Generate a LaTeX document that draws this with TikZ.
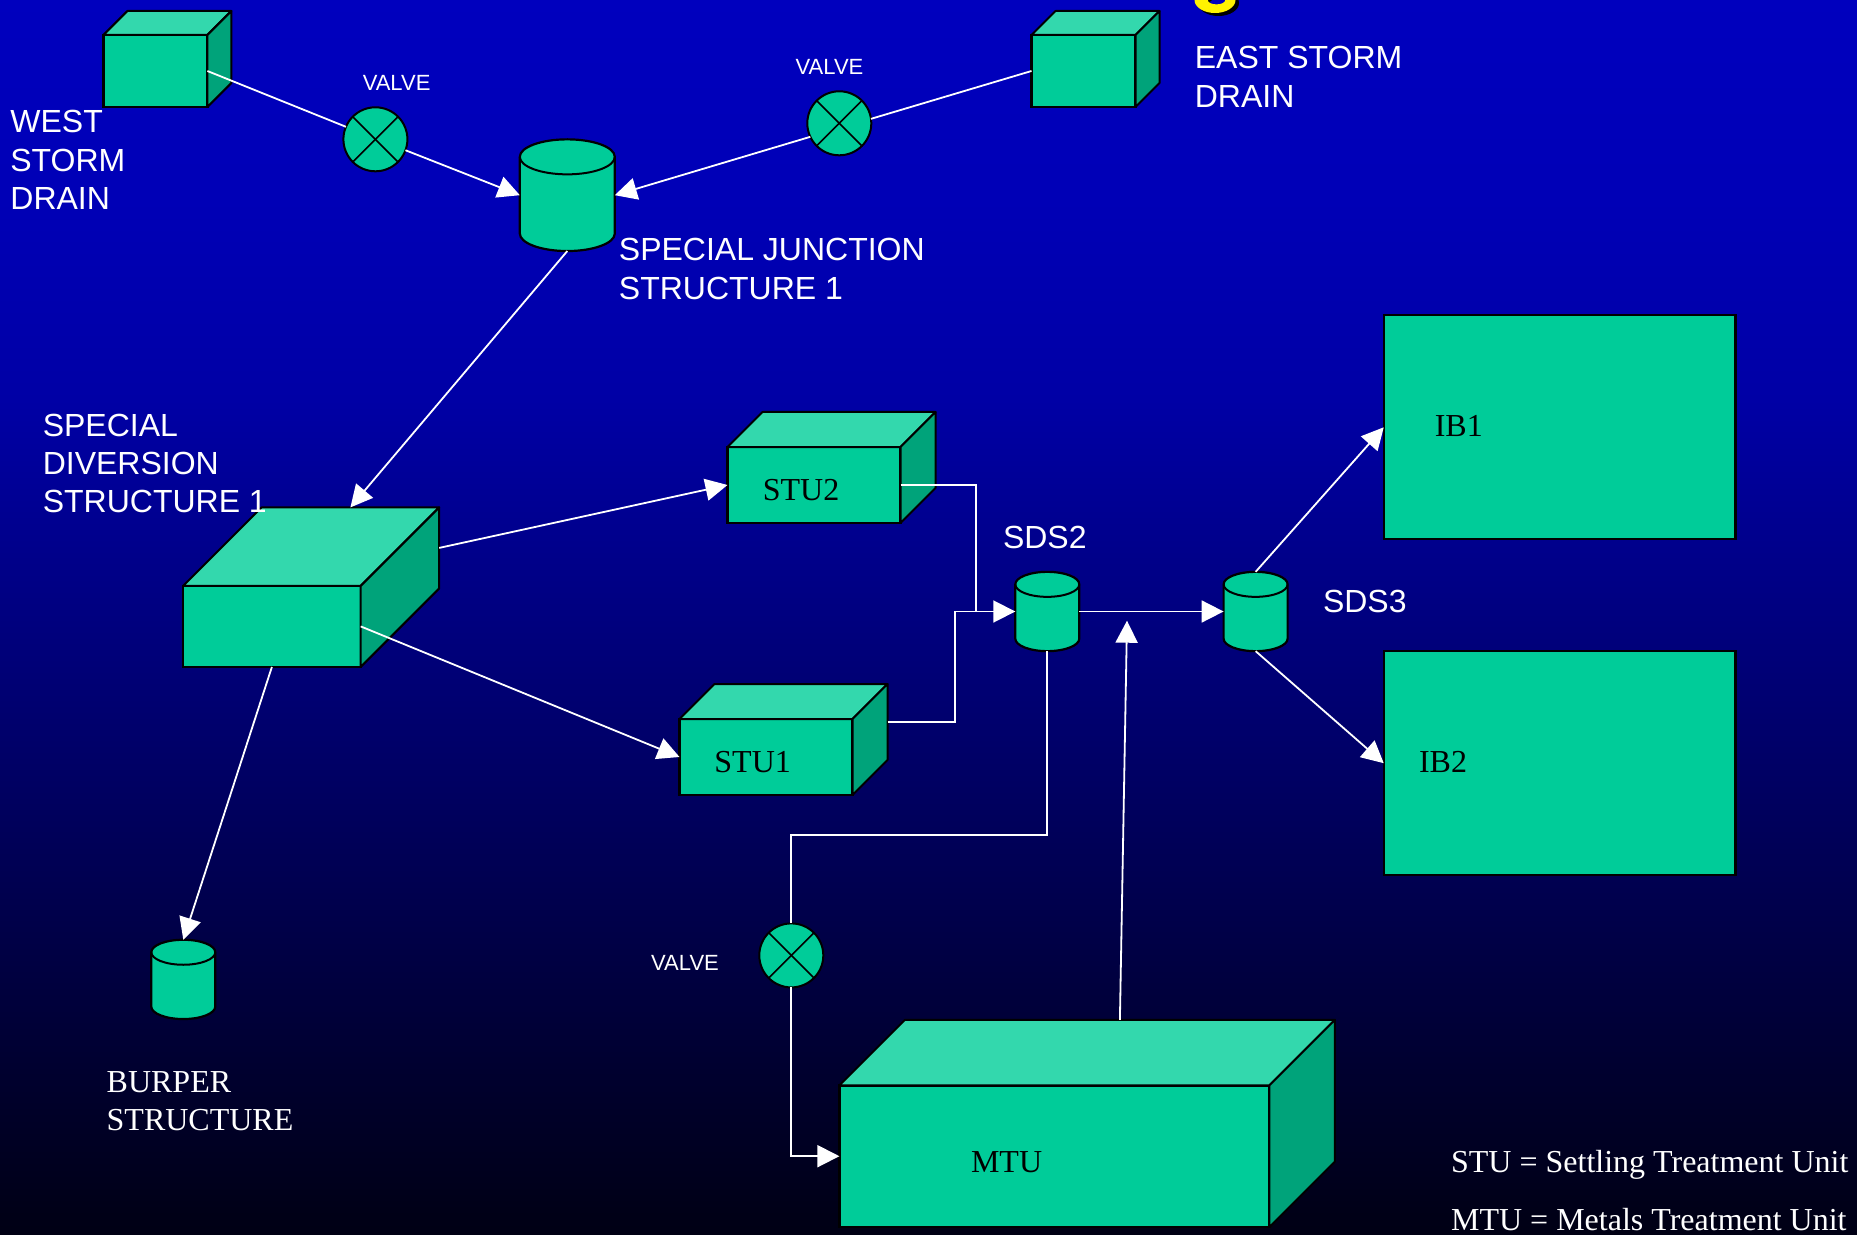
\documentclass[tikz,border=0pt]{standalone}
\usepackage{fontspec}
\setmainfont{Liberation Serif}
\newfontfamily\arialfont{Liberation Sans}
\usetikzlibrary{shapes,arrows.meta,positioning,calc}
\definecolor{tealfront}{RGB}{0,204,153}
\definecolor{tealtop}{RGB}{51,216,173}
\definecolor{tealside}{RGB}{0,163,122}
\pgfdeclareverticalshading{slidefade}{100bp}{rgb(0bp)=(0,0,.078); rgb(25bp)=(0,0,.078); rgb(30.5bp)=(0,0,.165); rgb(36.5bp)=(0,0,.267); rgb(42.6bp)=(0,0,.373); rgb(49.5bp)=(0,0,.49); rgb(58.8bp)=(0,0,.647); rgb(66.9bp)=(0,0,.714); rgb(75bp)=(0,0,.745); rgb(100bp)=(0,0,.745)}
\tikzstyle{frontface}=[rectangle, draw=black, fill=tealfront, line width=1.1pt, inner sep=0pt, outer sep=0pt]
\tikzstyle{topface}=[draw=black, fill=tealtop, line width=1pt, line join=round]
\tikzstyle{sideface}=[draw=black, fill=tealside, line width=1pt, line join=round]
\tikzstyle{drumbox}=[rectangle, inner sep=0pt, outer sep=0pt]
\tikzstyle{valvedisc}=[circle, draw=black, fill=tealfront, line width=1pt, inner sep=0pt, outer sep=0pt, minimum size=32pt]
\tikzstyle{pipe}=[white, line width=0.9pt]
\tikzstyle{flow}=[pipe, -{Triangle[length=11pt,width=11pt]}]
\tikzstyle{sanstext}=[white, anchor=base west, align=left, inner sep=0pt, font=\arialfont\fontsize{16}{19.25}\selectfont]
\tikzstyle{valvetext}=[white, anchor=base, inner sep=0pt, font=\arialfont\fontsize{11}{13}\selectfont]
\tikzstyle{seriftext}=[white, anchor=base west, align=left, inner sep=0pt, font=\fontsize{16}{19.15}\selectfont]
\tikzstyle{unittext}=[black, anchor=base west, inner sep=0pt, font=\fontsize{16}{19}\selectfont]
\newcommand{\tikzdepth}[2]{
 \path[topface] (#1.north west) -- ($(#1.north west)+(#2,-#2)$) -- ($(#1.north east)+(#2,-#2)$) -- (#1.north east) -- cycle;
 \path[sideface] (#1.north east) -- ($(#1.north east)+(#2,-#2)$) -- ($(#1.south east)+(#2,-#2)$) -- (#1.south east) -- cycle;
 \coordinate (#1-top) at ($(#1.north)+(#2,-#2)$);
 \coordinate (#1-side) at ($(#1.east)+(#2,-#2)$);}
\newcommand{\tikzdrum}[3]{
 \path[frontface] ([yshift=-#3]#1.north west) -- ([yshift=#3]#1.south west) arc[start angle=180,end angle=360,x radius=#2,y radius=#3] -- ([yshift=-#3]#1.north east) arc[start angle=0,end angle=180,x radius=#2,y radius=#3] -- cycle;
 \draw[line width=1pt] ([yshift=-#3]#1.north west) arc[start angle=180,end angle=360,x radius=#2,y radius=#3];}
\newcommand{\tikzcross}[1]{
 \draw[line width=0.8pt] (#1.north west) -- (#1.south east);
 \draw[line width=0.8pt] (#1.north east) -- (#1.south west);}

\begin{document}
\begin{tikzpicture}[x=0.5pt,y=-0.5pt]

\useasboundingbox (0,0) rectangle (1857,1235);
\shade[shading=slidefade] (0,0) rectangle (1857,1235);

% bottom of the cut off title letter
\fill[black,even odd rule] (1218.5,3) ellipse [x radius=10.25pt,y radius=6.5pt] (1218.5,3) ellipse [x radius=4.4pt,y radius=2.2pt];
\fill[yellow,even odd rule] (1215,0) ellipse [x radius=10.25pt,y radius=6.5pt] (1216.5,0) ellipse [x radius=4.4pt,y radius=2.2pt];

\node[frontface,minimum width=52pt,minimum height=36pt](westdrain) at (155.4,71) {};
\tikzdepth{westdrain}{24}
\node[frontface,minimum width=52pt,minimum height=36pt](eastdrain) at (1083.5,71) {};
\tikzdepth{eastdrain}{24}
\node[frontface,minimum width=88.8pt,minimum height=40.5pt](diversion) at (271.9,626.4) {};
\tikzdepth{diversion}{78.5}
\node[frontface,minimum width=86.5pt,minimum height=38pt](stu2) at (814,485) {};
\tikzdepth{stu2}{35}
\node[frontface,minimum width=86.5pt,minimum height=38pt](stu1) at (766,757) {};
\tikzdepth{stu1}{35}
\node[frontface,minimum width=215pt,minimum height=70.8pt](mtu) at (1054.4,1156.2) {};
\tikzdepth{mtu}{65.5}
\node[frontface,minimum width=175.85pt,minimum height=112pt](ib1) at (1559.6,427.3) {};
\node[frontface,minimum width=175.85pt,minimum height=112pt](ib2) at (1559.6,763.2) {};

\node[drumbox,minimum width=47.5pt,minimum height=55.85pt](junction) at (567.3,195.2) {};
\tikzdrum{junction}{23.75pt}{8.75pt}
\node[drumbox,minimum width=32pt,minimum height=39.65pt](sds2) at (1047.3,611.5) {};
\tikzdrum{sds2}{16pt}{6.25pt}
\node[drumbox,minimum width=32pt,minimum height=39.65pt](sds3) at (1255.6,611.5) {};
\tikzdrum{sds3}{16pt}{6.25pt}
\node[drumbox,minimum width=32pt,minimum height=39.65pt](burper) at (183.3,979.4) {};
\tikzdrum{burper}{16pt}{6.25pt}

\node[valvedisc](valve1) at (375.4,139.3) {};
\tikzcross{valve1}
\node[valvedisc](valve2) at (839.3,123.3) {};
\tikzcross{valve2}
\node[valvedisc](valve3) at (791.3,955.4) {};
\tikzcross{valve3}

\coordinate (stu2bend) at (975.7,611.5);
\coordinate (stu1bend) at (954.7,611.5);
\coordinate (valvebend) at (791.3,835.3);
\coordinate (mtuend) at (1127,620.7);

\draw[pipe](westdrain.east) -- (valve1.157);
\draw[flow](valve1.-20) -- (junction.west);
\draw[pipe](eastdrain.west) -- (valve2.8);
\draw[flow](valve2.205) -- (junction.east);
\draw[flow](junction.south) -- (diversion-top);
\draw[flow](diversion-side) -- (stu2.west);
\draw[flow](diversion.east) -- (stu1.west);
\draw[flow](diversion.south) -- (burper.north);
\draw[pipe](stu2.east) -| (stu2bend);
\draw[flow](stu1-side) -| (stu1bend) -- (sds2.west);
\draw[flow](sds2.east) -- (sds3.west);
\draw[flow](sds3.north) -- (ib1.west);
\draw[flow](sds3.south) -- (ib2.west);
\draw[pipe](sds2.south) |- (valvebend) -- (valve3.north);
\draw[flow](valve3.south) |- (mtu.west);
\draw[flow](mtu-top) -- (mtuend);

\node[sanstext](westlabel) at (10,132.7) {WEST};
\node[sanstext](westlabel2) at (10,171.2) {STORM};
\node[sanstext](westlabel3) at (10,210) {DRAIN};
\node[sanstext](eastlabel) at (1194.4,68.7) {EAST STORM};
\node[sanstext](eastlabel2) at (1194.4,107.3) {DRAIN};
\node[sanstext](junctionlabel) at (618.5,260.3) {SPECIAL JUNCTION};
\node[sanstext](junctionlabel2) at (618.5,299.3) {STRUCTURE 1};
\node[sanstext](diversionlabel) at (42.4,436.2) {SPECIAL};
\node[sanstext](diversionlabel2) at (42.4,474) {DIVERSION};
\node[sanstext](diversionlabel3) at (42.4,512.3) {STRUCTURE 1};
\node[sanstext](sds2label) at (1002.6,548.7) {SDS2};
\node[sanstext](sds3label) at (1322.6,612.7) {SDS3};
\node[valvetext](valve1label) at (396.6,91) {VALVE};
\node[valvetext](valve2label) at (829.5,75) {VALVE};
\node[valvetext](valve3label) at (685,970.5) {VALVE};

\node[unittext](stu2label) at (762.4,500) {STU2};
\node[unittext](stu1label) at (714,772.7) {STU1};
\node[unittext](ib1label) at (1434.4,436.2) {IB1};
\node[unittext](ib2label) at (1418.6,772) {IB2};
\node[unittext](mtulabel) at (970.6,1172.7) {MTU};

\node[seriftext](burperlabel) at (106.3,1092.7) {BURPER};
\node[seriftext](burperlabel2) at (106.3,1130) {STRUCTURE};
\node[seriftext](stulegend) at (1450.7,1172.7) {STU = Settling Treatment Unit};
\node[seriftext](mtulegend) at (1450.7,1230.3) {MTU = Metals Treatment Unit};

\end{tikzpicture}
\end{document}
